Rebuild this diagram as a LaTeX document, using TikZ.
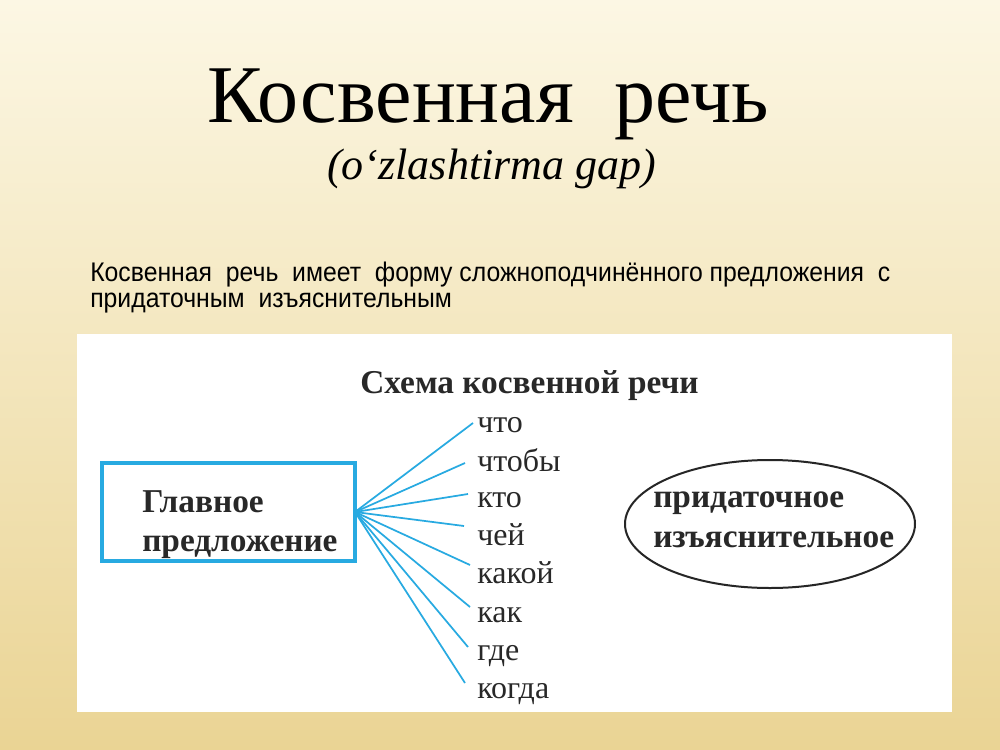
\documentclass[tikz,border=0pt]{standalone}
\usepackage{fontspec}
\setmainfont{Liberation Serif}
\newfontfamily\sansf[FakeStretch=0.92]{Liberation Sans}
\usetikzlibrary{shapes.geometric}
\definecolor{bgtop}{RGB}{252,247,228}
\definecolor{bgmid}{RGB}{246,232,186}
\definecolor{bgbot}{RGB}{234,212,148}
\definecolor{schblue}{RGB}{40,170,225}
\definecolor{schgray}{RGB}{40,40,40}
\tikzset{
  txt/.style={anchor=base west, inner sep=0pt},
  titletxt/.style={txt, font=\fontsize{61.5}{61.5}\selectfont},
  subtxt/.style={txt, font=\fontsize{33}{33}\selectfont\itshape},
  bodytxt/.style={txt, font=\sansf\fontsize{20.2}{20.2}\selectfont},
  boldtxt/.style={txt, text=schgray, font=\fontsize{25}{25}\selectfont\bfseries},
  wordtxt/.style={txt, text=schgray, font=\fontsize{24}{24}\selectfont},
  fanline/.style={draw=schblue, line width=1.3pt},
}
\begin{document}
\begin{tikzpicture}[x=0.75pt,y=-0.75pt]
\useasboundingbox (0,0) rectangle (1000,750);
\shade[top color=bgtop, middle color=bgmid, bottom color=bgbot] (0,0) rectangle (1000,750);
% title
\node[titletxt] (title) at (207,122) {Косвенная\ \ речь};
\node[subtxt] (sub) at (327,179) {(o‘zlashtirma gap)};
\node[bodytxt] (body1) at (90,281) {Косвенная\ \ речь\ \ имеет\ \ форму сложноподчинённого предложения\ \ с};
\node[bodytxt] (body2) at (90,307) {придаточным\ \ изъяснительным};
% panel
\fill[white] (77,334) rectangle (952,712);
\node[boldtxt] (schema) at (360,393) {Схема косвенной речи};
% main clause box
\draw[schblue, line width=2.4pt] (102,463) rectangle (355,561);
\coordinate (src) at (355,512);
\node[boldtxt] (m1) at (142,512) {Главное};
\node[boldtxt] (m2) at (142,551) {предложение};
% words
\node[wordtxt] (w1) at (477,432) {что};
\node[wordtxt] (w2) at (477,471) {чтобы};
\node[wordtxt] (w3) at (477,507) {кто};
\node[wordtxt] (w4) at (477,545) {чей};
\node[wordtxt] (w5) at (477,583) {какой};
\node[wordtxt] (w6) at (477,622) {как};
\node[wordtxt] (w7) at (477,660) {где};
\node[wordtxt] (w8) at (477,698) {когда};
\coordinate (e1) at (473,423);
\coordinate (e2) at (465,463);
\coordinate (e3) at (468,494);
\coordinate (e4) at (464,526);
\coordinate (e5) at (470,565);
\coordinate (e6) at (470,607);
\coordinate (e7) at (468,647);
\coordinate (e8) at (465,683);
\foreach \i in {1,...,8} { \draw[fanline] (src) -- (e\i); }
% subordinate clause ellipse
\draw[black!85, line width=1.5pt] (770,524) ellipse [x radius=145, y radius=64];
\node[boldtxt] (s1) at (653,507) {придаточное};
\node[boldtxt] (s2) at (653,547) {изъяснительное};
\end{tikzpicture}
\end{document}
